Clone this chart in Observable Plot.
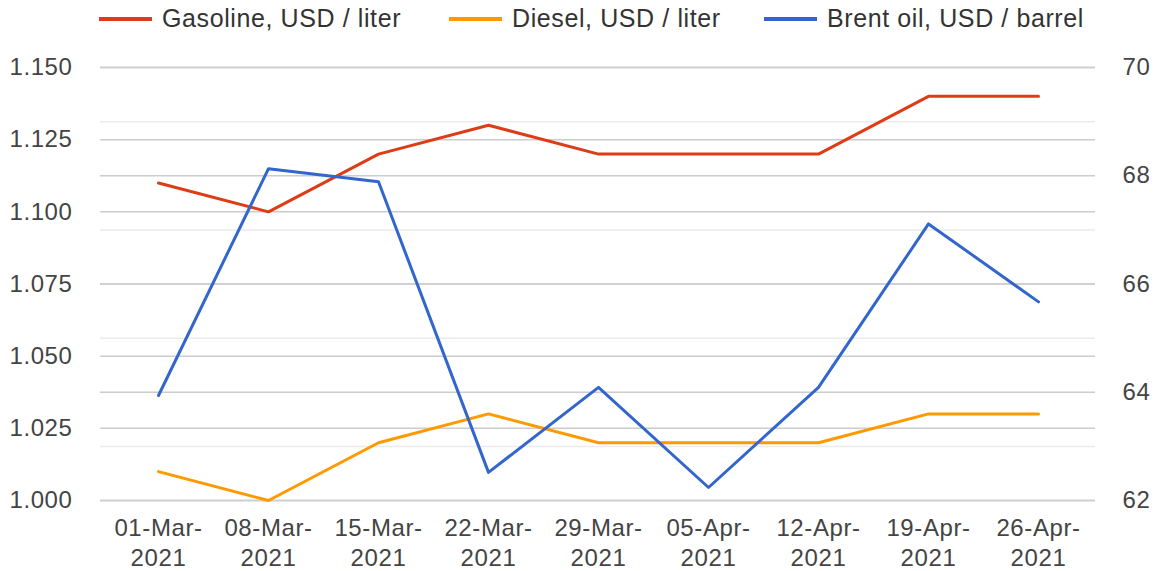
<!DOCTYPE html>
<html>
<head>
<meta charset="utf-8">
<script src="https://cdn.jsdelivr.net/npm/d3@7"></script>
<script src="https://cdn.jsdelivr.net/npm/@observablehq/plot@0.6"></script>
<style>
  html, body { margin: 0; padding: 0; background: #fff; }
  body { width: 1157px; height: 571px; overflow: hidden; font-family: "Liberation Sans", Arial, sans-serif; }
  #legend { height: 40px; position: relative; font-size: 25px; color: #333; letter-spacing: 0.6px; }
  .item { position: absolute; top: 4px; display: flex; align-items: center; white-space: nowrap; }
  .sw { width: 53px; height: 4px; margin-right: 10px; }
</style>
</head>
<body>
<div id="legend"></div>
<div id="chart"></div>
<script>
const dates = ["01-Mar-2021", "08-Mar-2021", "15-Mar-2021", "22-Mar-2021", "29-Mar-2021", "05-Apr-2021", "12-Apr-2021", "19-Apr-2021", "26-Apr-2021"];
const gasoline = [1.11, 1.10, 1.12, 1.13, 1.12, 1.12, 1.12, 1.14, 1.14];
const diesel = [1.01, 1.00, 1.02, 1.03, 1.02, 1.02, 1.02, 1.03, 1.03];
const brent = [63.94, 68.13, 67.89, 62.52, 64.09, 62.24, 64.09, 67.11, 65.67];
const seriesNames = ["Gasoline, USD / liter", "Diesel, USD / liter", "Brent oil, USD / barrel"];
const colors = ["#dd3c16", "#ff9900", "#3366cc"];
const leftTicks = [1.000, 1.025, 1.050, 1.075, 1.100, 1.125, 1.150];
const rightTicks = [62, 64, 66, 68, 70];
const rightMinor = [63, 65, 67, 69];

// map right-axis values onto left-axis scale
const L0 = 1.0, L1 = 1.15, R0 = 62, R1 = 70;
const toLeft = v => L0 + (v - R0) / (R1 - R0) * (L1 - L0);
const toRight = v => R0 + (v - L0) / (L1 - L0) * (R1 - R0);

const gasData = dates.map((d, i) => ({date: d, value: gasoline[i]}));
const dieData = dates.map((d, i) => ({date: d, value: diesel[i]}));
const brentData = dates.map((d, i) => ({date: d, value: toLeft(brent[i])}));

// legend
const legend = document.getElementById("legend");
const lefts = [99, 449, 764];
seriesNames.forEach((n, i) => {
  const it = document.createElement("div");
  it.className = "item";
  it.style.left = lefts[i] + "px";
  it.innerHTML = `<span class="sw" style="background:${colors[i]}"></span><span>${n}</span>`;
  legend.appendChild(it);
});

const chart = Plot.plot({
  width: 1157,
  height: 531,
  marginTop: 27,
  marginBottom: 71,
  marginLeft: 100,
  marginRight: 62,
  style: { fontFamily: "'Liberation Sans', Arial, sans-serif", fontSize: "24px", color: "#444", background: "#fff", letterSpacing: "0.6px" },
  x: { type: "point", domain: dates, padding: 0.518 },
  y: { domain: [L0, L1] },
  marks: [
    Plot.ruleY(rightMinor.map(toLeft), { stroke: "#ebebeb", strokeWidth: 1.5 }),
    Plot.ruleY(leftTicks, { stroke: "#cccccc", strokeWidth: 1.5 }),
    Plot.ruleY(rightTicks.map(toLeft), { stroke: "#cccccc", strokeWidth: 1.5 }),
    Plot.axisY(leftTicks, { anchor: "left", tickSize: 0, tickPadding: 28, tickFormat: d3.format(".3f"), label: null, fill: "#444" }),
    Plot.axisY(rightTicks.map(toLeft), { anchor: "right", tickSize: 0, tickPadding: 27, tickFormat: v => String(Math.round(toRight(v))), label: null, fill: "#444" }),
    Plot.axisX({ tickSize: 0, tickPadding: 14, lineHeight: 1.25, tickFormat: d => d.replace(/-(\d{4})$/, "-\n$1"), label: null, fill: "#444" }),
    Plot.line(gasData, { x: "date", y: "value", stroke: colors[0], strokeWidth: 3 }),
    Plot.line(dieData, { x: "date", y: "value", stroke: colors[1], strokeWidth: 3 }),
    Plot.line(brentData, { x: "date", y: "value", stroke: colors[2], strokeWidth: 3 })
  ]
});
document.getElementById("chart").appendChild(chart);
</script>
</body>
</html>
